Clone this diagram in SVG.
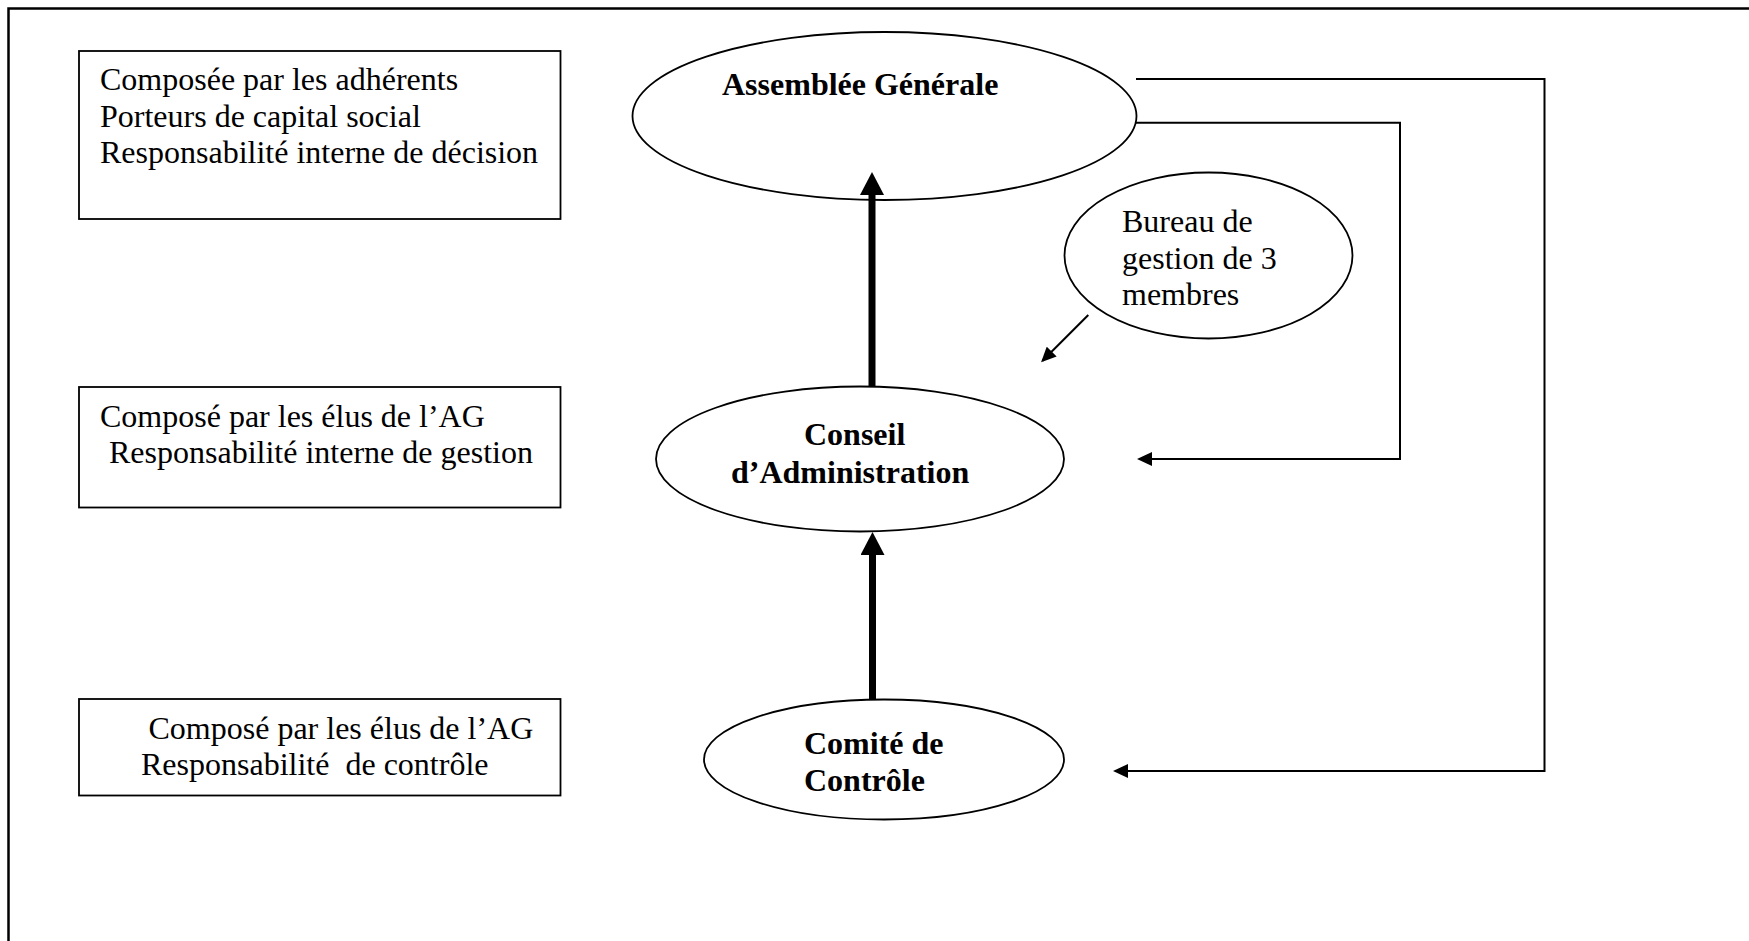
<svg xmlns="http://www.w3.org/2000/svg" width="1749" height="941" viewBox="0 0 1749 941">
  <style>
    .frame { fill: none; stroke: #000; stroke-width: 2.5; }
    .box { fill: #fff; stroke: #000; stroke-width: 1.8; }
    .oval { fill: #fff; stroke: #000; stroke-width: 1.8; }
    .txt { font-family: "Liberation Serif", "Times New Roman", serif; font-size: 32px; fill: #000; }
    .bold { font-weight: bold; }
    .link { fill: none; stroke: #000; stroke-width: 2; }
    .thick { fill: none; stroke: #000; stroke-width: 7; }
  </style>
  <defs>
    <marker id="head" markerUnits="userSpaceOnUse" markerWidth="16" markerHeight="14" refX="13" refY="7" orient="auto">
      <path d="M0,0 L15,7 L0,14 z" fill="#000"/>
    </marker>
    <marker id="bighead" markerUnits="userSpaceOnUse" markerWidth="24" markerHeight="25" refX="0" refY="12" orient="auto">
      <path d="M0,0 L23,12 L0,24 z" fill="#000"/>
    </marker>
  </defs>

  <rect x="0" y="0" width="1749" height="941" fill="#fff"/>
  <!-- page frame, running past the right and bottom edges -->
  <path class="frame" d="M8.5,960 V8.5 H1760"/>

  <g id="note-ag">
    <rect class="box" x="79" y="51" width="481.5" height="168"/>
    <text class="txt" x="100" y="90">Composée par les adhérents</text>
    <text class="txt" x="100" y="127">Porteurs de capital social</text>
    <text class="txt" x="100" y="163">Responsabilité interne de décision</text>
  </g>

  <g id="note-ca">
    <rect class="box" x="79" y="387" width="481.5" height="120.5"/>
    <text class="txt" x="100" y="427">Composé par les élus de l’AG</text>
    <text class="txt" x="109" y="463">Responsabilité interne de gestion</text>
  </g>

  <g id="note-cc">
    <rect class="box" x="79" y="699" width="481.5" height="96.5"/>
    <text class="txt" x="148.5" y="739">Composé par les élus de l’AG</text>
    <text class="txt" x="141" y="775" xml:space="preserve">Responsabilité  de contrôle</text>
  </g>

  <g id="assemblee-generale">
    <ellipse class="oval" cx="884.5" cy="116" rx="252" ry="84"/>
    <text class="txt bold" x="722" y="95">Assemblée Générale</text>
  </g>

  <g id="bureau">
    <ellipse class="oval" cx="1208.5" cy="255.5" rx="144" ry="83"/>
    <text class="txt" x="1122" y="232">Bureau de</text>
    <text class="txt" x="1122" y="269">gestion de 3</text>
    <text class="txt" x="1122" y="305">membres</text>
  </g>

  <g id="conseil-administration">
    <ellipse class="oval" cx="860" cy="459" rx="204" ry="72.5"/>
    <text class="txt bold" x="804" y="445">Conseil</text>
    <text class="txt bold" x="731" y="483">d’Administration</text>
  </g>

  <g id="comite-controle">
    <ellipse class="oval" cx="884" cy="759.5" rx="180" ry="60"/>
    <text class="txt bold" x="804" y="754">Comité de</text>
    <text class="txt bold" x="804" y="791">Contrôle</text>
  </g>

  <!-- connectors drawn last so the heads sit over the ellipses -->
  <g id="connectors">
    <path class="link" d="M1136,79 H1544.5 V771 H1115" marker-end="url(#head)"/>
    <path class="link" d="M1136,122.7 H1400 V459 H1139" marker-end="url(#head)"/>
    <path class="link" d="M1088.3,315 L1042.5,360.8" marker-end="url(#head)"/>
    <line class="thick" x1="872" y1="387" x2="872" y2="195" marker-end="url(#bighead)"/>
    <line class="thick" x1="872.5" y1="699" x2="872.5" y2="555" marker-end="url(#bighead)"/>
  </g>
</svg>
